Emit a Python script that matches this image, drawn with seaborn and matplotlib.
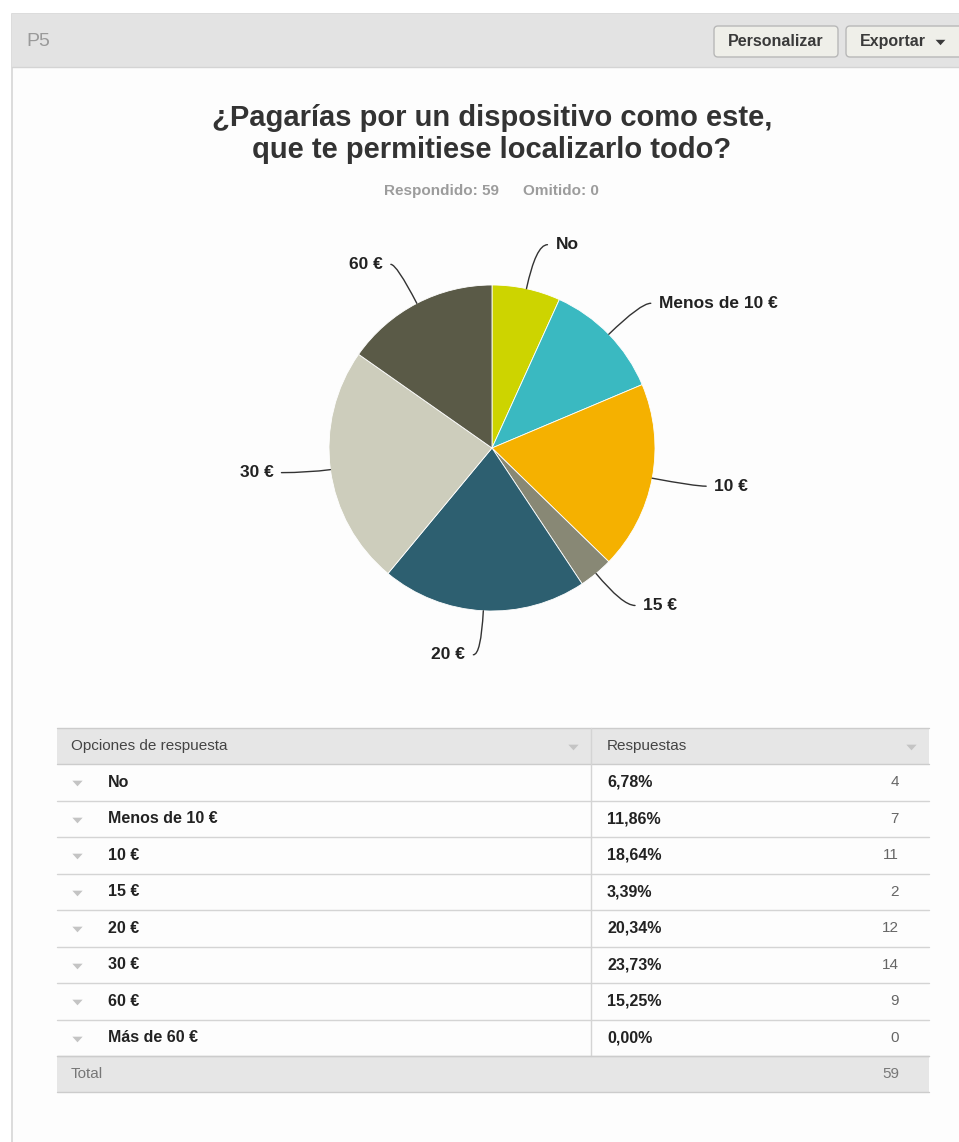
import matplotlib
matplotlib.use("Agg")
import matplotlib.pyplot as plt
import seaborn as sns
import numpy as np
from matplotlib.patches import Rectangle, FancyBboxPatch

# ---------------- data ----------------
question_id = "P5"
title = "¿Pagarías por un dispositivo como este,\nque te permitiese localizarlo todo?"
categories = ["No", "Menos de 10 €", "10 €", "15 €", "20 €", "30 €", "60 €", "Más de 60 €"]
counts = [4, 7, 11, 2, 12, 14, 9, 0]
slice_colors = ["#cdd400", "#3ab9c1", "#f5b100", "#888875", "#2d5f70", "#cdcdbc", "#5a5a47", "#999999"]
answered = 59
skipped = 0
header_cols = ["Opciones de respuesta", "Respuestas"]
buttons = ["Personalizar", "Exportar"]

total = sum(counts)
percent_labels = [f"{c / total * 100:.2f}%".replace(".", ",") for c in counts]

# ---------------- layout (pixels) ----------------
W, H = 959, 1142
CX, CY, R = 492, 448, 163
# connector end offsets from slice edge (px, y down) and label side
label_layout = {
    "No": (21, -44, "left"),
    "Menos de 10 €": (42, -31, "left"),
    "10 €": (54, 8, "left"),
    "15 €": (39, 32, "left"),
    "20 €": (-10, 44, "right"),
    "30 €": (-49, 3, "right"),
    "60 €": (-26, -39, "right"),
}
TRI = [(-1, 0.55), (1, 0.55), (0, -0.55)]  # flat down-pointing triangle marker

sns.set_theme(style="white")
plt.rcParams["font.family"] = ["Liberation Sans", "DejaVu Sans"]

fig = plt.figure(figsize=(W / 100, H / 100), dpi=100)
fig.patch.set_facecolor("white")

bg = fig.add_axes([0, 0, 1, 1])
bg.set_xlim(0, W)
bg.set_ylim(H, 0)
bg.axis("off")


def tri(x, y, color="#c4c4c4", s=55):
    bg.scatter([x], [y], marker=TRI, s=s, color=color, linewidths=0, zorder=5)


# panel
bg.add_patch(Rectangle((12, 14), W + 20, H, facecolor="#fdfdfd", edgecolor="#d6d6d6", lw=1.2))
bg.add_patch(Rectangle((12, 14), W, 53, facecolor="#e3e3e3", edgecolor="none"))
bg.plot([12, W], [67, 67], color="#d4d4d4", lw=1)
bg.text(26, 41, question_id, fontsize=14, color="#9a9a9a", va="center", ha="left")

# buttons
btn_boxes = [(714, 124), (846, 124)]
for (x0, w), txt in zip(btn_boxes, buttons):
    bg.add_patch(FancyBboxPatch((x0, 26), w, 31, boxstyle="round,pad=0,rounding_size=4",
                                facecolor="#efefe9", edgecolor="#b8b8b8", lw=1))
bg.text(776, 41.5, buttons[0], fontsize=11.5, fontweight="bold", color="#3a3a3a",
        ha="center", va="center")
bg.text(860, 41.5, buttons[1], fontsize=11.5, fontweight="bold", color="#3a3a3a",
        ha="left", va="center")
tri(940, 42, color="#3a3a3a", s=50)

# title & subtitle
bg.text(492, 134, title, fontsize=21, fontweight="bold", color="#333333",
        ha="center", va="center", linespacing=1.2)
bg.text(384, 191, f"Respondido: {answered}", fontsize=11, fontweight="bold",
        color="#9c9c9c", ha="left", va="center")
bg.text(523, 191, f"Omitido: {skipped}", fontsize=11, fontweight="bold",
        color="#9c9c9c", ha="left", va="center")

# ---------------- pie ----------------
side = 640
ax = fig.add_axes([(CX - side / 2) / W, (H - CY - side / 2) / H, side / W, side / H])
nz = [i for i, c in enumerate(counts) if c > 0]
pal = sns.color_palette([slice_colors[i] for i in nz])
wedges, _ = ax.pie([counts[i] for i in nz], colors=pal, startangle=90, counterclock=False,
                   radius=1, center=(0, 0),
                   wedgeprops=dict(edgecolor="white", linewidth=0.6))
lim = side / 2 / R
ax.set_xlim(-lim, lim)
ax.set_ylim(-lim, lim)
ax.axis("off")

for w, i in zip(wedges, nz):
    name = categories[i]
    mid = (w.theta1 + w.theta2) / 2.0
    ax_, ay_ = np.cos(np.radians(mid)), np.sin(np.radians(mid))
    dx, dy, side_ = label_layout[name]
    ex, ey = ax_ + dx / R, ay_ - dy / R
    ax.annotate("", xy=(ax_, ay_), xytext=(ex, ey),
                arrowprops=dict(arrowstyle="-", color="#333333", lw=1,
                                shrinkA=0, shrinkB=0,
                                connectionstyle=f"angle3,angleA=0,angleB={mid}"))
    gap = 8 / R
    tx = ex + gap if side_ == "left" else ex - gap
    ax.text(tx, ey, name, ha=side_, va="center", fontsize=12.5, fontweight="bold",
            color="#222222")

# ---------------- table ----------------
L, Rt, DIV = 57, 929, 591
top, hh, rh = 728, 36, 36.5
bg.add_patch(Rectangle((L, top), Rt - L, hh, facecolor="#e6e6e6", edgecolor="none"))
bg.plot([L, Rt], [top, top], color="#cccccc", lw=1)
bg.plot([L, Rt], [top + hh, top + hh], color="#cccccc", lw=1)
bg.text(71, top + hh / 2, header_cols[0], fontsize=11, color="#444444", ha="left", va="center")
bg.text(607, top + hh / 2, header_cols[1], fontsize=11, color="#444444", ha="left", va="center")
for tx in (573, 911):
    tri(tx, top + hh / 2 + 1)

y0 = top + hh
for k, (name, pct, c) in enumerate(zip(categories, percent_labels, counts)):
    yc = y0 + k * rh + rh / 2
    tri(77, yc + 1)
    bg.text(108, yc, name, fontsize=11.5, fontweight="bold", color="#222222", ha="left", va="center")
    bg.text(607, yc, pct, fontsize=11.5, fontweight="bold", color="#222222", ha="left", va="center")
    bg.text(899, yc, str(c), fontsize=11, color="#666666", ha="right", va="center")
    bg.plot([L, Rt], [y0 + (k + 1) * rh] * 2, color="#d4d4d4", lw=1)
yend = y0 + len(categories) * rh
bg.plot([DIV, DIV], [top, yend], color="#d4d4d4", lw=1)
bg.add_patch(Rectangle((L, yend), Rt - L, 36, facecolor="#e6e6e6", edgecolor="none"))
bg.plot([L, Rt], [yend, yend], color="#cccccc", lw=1)
bg.plot([L, Rt], [yend + 36, yend + 36], color="#cccccc", lw=1)
bg.text(71, yend + 18, "Total", fontsize=11, color="#777777", ha="left", va="center")
bg.text(899, yend + 18, str(total), fontsize=11, color="#777777", ha="right", va="center")

fig.savefig("out.png", dpi=100, facecolor="white")
